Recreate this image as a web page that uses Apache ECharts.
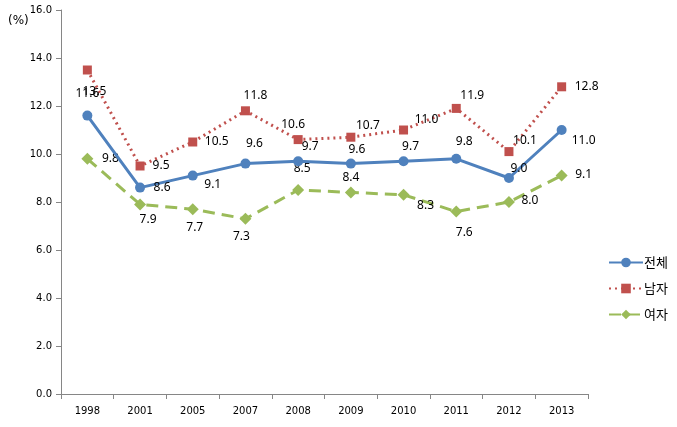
<!DOCTYPE html>
<html><head><meta charset="utf-8">
<script src="https://cdn.jsdelivr.net/npm/echarts@6/dist/echarts.min.js"></script>
<style>html,body{margin:0;padding:0;background:#fff}#c{width:677px;height:427px}</style>
</head><body><div id="c"></div>
<script>
const categories = ['1998','2001','2005','2007','2008','2009','2010','2011','2012','2013'];
const total = [11.6, 8.6, 9.1, 9.6, 9.7, 9.6, 9.7, 9.8, 9.0, 11.0];
const male = [13.5, 9.5, 10.5, 11.8, 10.6, 10.7, 11.0, 11.9, 10.1, 12.8];
const female = [9.8, 7.9, 7.7, 7.3, 8.5, 8.4, 8.3, 7.6, 8.0, 9.1];
const seriesNames = ['전체', '남자', '여자'];
const yTicks = {min: 0, max: 16, interval: 2};

// label placement offsets (style)
const offTotal = [[0,-22],[22,0],[20,9],[9,-20],[12,-15],[6,-14],[7,-15],[8,-17],[10,-9],[22,11]];
const offMale = [[7,22],[21,0],[24,0],[10,-15],[-5,-15],[17,-12],[23,-10],[16,-13],[16,-11],[25,0]];
const offFemale = [[23,0],[8,15],[2,18],[-4,18],[4,-21],[0,-15],[22,11],[8,21],[21,-1],[22,-1]];

const labelFont = {fontFamily:'Noto Sans', fontSize:12, color:'#000'};
function mk(vals, offs){
  return vals.map((v,i)=>({value:v, label:{offset:offs[i]}}));
}
const chart = echarts.init(document.getElementById('c'));
chart.setOption({
  animation:false,
  grid:{left:61, right:89, top:10, bottom:33},
  graphic:[{type:'text', left:8, top:15, style:{text:'(%)', font:'12px "DejaVu Sans"', fill:'#000'}}],
  legend:{
    orient:'vertical', left:603, top:251, itemWidth:34, itemHeight:12, itemGap:13,
    textStyle:{fontFamily:'Noto Sans CJK KR', fontSize:13, color:'#000', padding:[0,0,0,-4]},
    data:seriesNames
  },
  xAxis:{
    type:'category', data:categories, boundaryGap:true,
    axisLine:{lineStyle:{color:'#868686', width:1}},
    axisTick:{show:true, length:5, lineStyle:{color:'#868686'}},
    axisLabel:{fontFamily:'DejaVu Sans', fontSize:10, color:'#000', margin:12},
    splitLine:{show:false}
  },
  yAxis:{
    type:'value', min:yTicks.min, max:yTicks.max, interval:yTicks.interval,
    axisLine:{show:true, lineStyle:{color:'#868686', width:1}},
    axisTick:{show:true, length:5, lineStyle:{color:'#868686'}},
    axisLabel:{fontFamily:'DejaVu Sans', fontSize:10, color:'#000', margin:9, formatter:v=>v.toFixed(1)},
    splitLine:{show:false}
  },
  series:[
    {name:seriesNames[0], type:'line', data:mk(total, offTotal), symbol:'circle', symbolSize:10,
     lineStyle:{color:'#4F81BD', width:3}, itemStyle:{color:'#4F81BD'},
     label:{show:true, position:'inside', ...labelFont, formatter:p=>p.value.toFixed(1)}, z:3},
    {name:seriesNames[1], type:'line', data:mk(male, offMale), symbol:'rect', symbolSize:9,
     lineStyle:{color:'#C0504D', width:3, type:[2,4]}, itemStyle:{color:'#C0504D'},
     label:{show:true, position:'inside', ...labelFont, formatter:p=>p.value.toFixed(1)}, z:2},
    {name:seriesNames[2], type:'line', data:mk(female, offFemale), symbol:'diamond', symbolSize:12,
     lineStyle:{color:'#9BBB59', width:3, type:[12,7]}, itemStyle:{color:'#9BBB59'},
     label:{show:true, position:'inside', ...labelFont, formatter:p=>p.value.toFixed(1)}, z:1}
  ]
});
</script></body></html>
